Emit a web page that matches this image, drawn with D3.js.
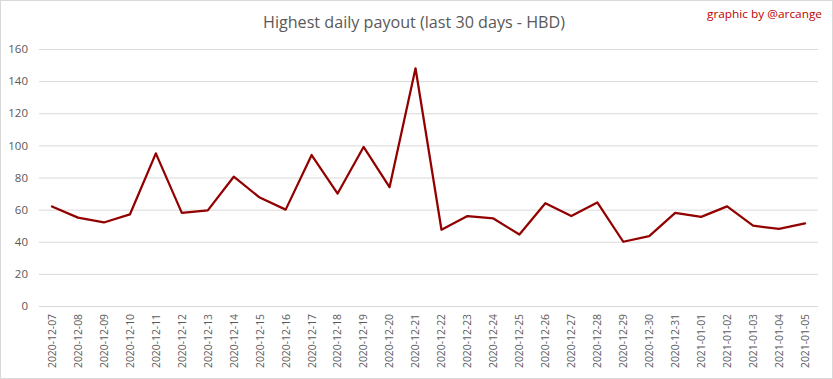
<!DOCTYPE html>
<html><head><meta charset="utf-8">
<script src="https://cdn.jsdelivr.net/npm/d3@7"></script>
<style>body{margin:0;background:#fff}svg{display:block}</style>
</head><body>
<svg id="c" width="833" height="379"></svg>
<script>
const dates = ["2020-12-07","2020-12-08","2020-12-09","2020-12-10","2020-12-11","2020-12-12","2020-12-13","2020-12-14","2020-12-15","2020-12-16","2020-12-17","2020-12-18","2020-12-19","2020-12-20","2020-12-21","2020-12-22","2020-12-23","2020-12-24","2020-12-25","2020-12-26","2020-12-27","2020-12-28","2020-12-29","2020-12-30","2020-12-31","2021-01-01","2021-01-02","2021-01-03","2021-01-04","2021-01-05"];
const payouts = [62,55,52,57,95,58,59.5,80.5,67.5,60,94,70,99,74,148,47.5,56,54.5,44.5,64,56,64.5,40,43.5,58,55.5,62,50,48,51.5];
const yTicks = [0,20,40,60,80,100,120,140,160];
const title = "Highest daily payout (last 30 days - HBD)";
const credit = "graphic by @arcange";

const svg = d3.select("#c");
const W = 833, H = 379;
const m = {left:39, right:15, top:49, bottom:73};
const x = d3.scaleBand().domain(dates).range([m.left, W - m.right]);
const y = d3.scaleLinear().domain([0,160]).range([H - m.bottom, m.top]);

svg.append("rect").attr("x",0.5).attr("y",0.5).attr("width",W-1).attr("height",H-1)
  .attr("fill","#fff").attr("stroke","#d9d9d9");

// gridlines + y labels
const ya = d3.axisLeft(y).tickValues(yTicks).tickSize(-(W - m.right - m.left)).tickPadding(11);
const gy = svg.append("g").attr("transform",`translate(${m.left},0)`).call(ya);
gy.select(".domain").remove();
gy.selectAll(".tick line").attr("stroke","#d9d9d9").attr("stroke-width",1);
gy.selectAll(".tick text").attr("fill","#595959").attr("font-family","'Open Sans', sans-serif").attr("font-size",11.5);

// x labels
const xa = d3.axisBottom(x).tickSize(0).tickPadding(0);
const gx = svg.append("g").attr("transform",`translate(0,${H - m.bottom})`).call(xa);
gx.select(".domain").remove();
gx.selectAll(".tick text")
  .attr("fill","#595959").attr("font-family","'Open Sans', sans-serif").attr("font-size",11)
  .attr("text-anchor","end").attr("dy","0.35em").attr("dx",0)
  .attr("transform","translate(0,8) rotate(-90)")
  .attr("x",0).attr("y",0)
  .attr("textLength",54).attr("lengthAdjust","spacingAndGlyphs");

// line
const line = d3.line().x((d,i)=>x(dates[i]) + x.bandwidth()/2).y(d=>y(d));
svg.append("path").datum(payouts).attr("d",line)
  .attr("fill","none").attr("stroke","#930000").attr("stroke-width",2.25)
  .attr("stroke-linejoin","round").attr("stroke-linecap","round");

// title
svg.append("text").attr("x",414).attr("y",28).attr("text-anchor","middle")
  .attr("fill","#595959").attr("font-family","'Open Sans', sans-serif").attr("font-size",17)
  .attr("textLength",302).attr("lengthAdjust","spacingAndGlyphs").text(title);
svg.append("text").attr("x",822).attr("y",18).attr("text-anchor","end")
  .attr("fill","#c00000").attr("font-family","'Open Sans', sans-serif").attr("font-size",11.5)
  .attr("textLength",115).attr("lengthAdjust","spacingAndGlyphs").text(credit);
</script>
</body></html>
